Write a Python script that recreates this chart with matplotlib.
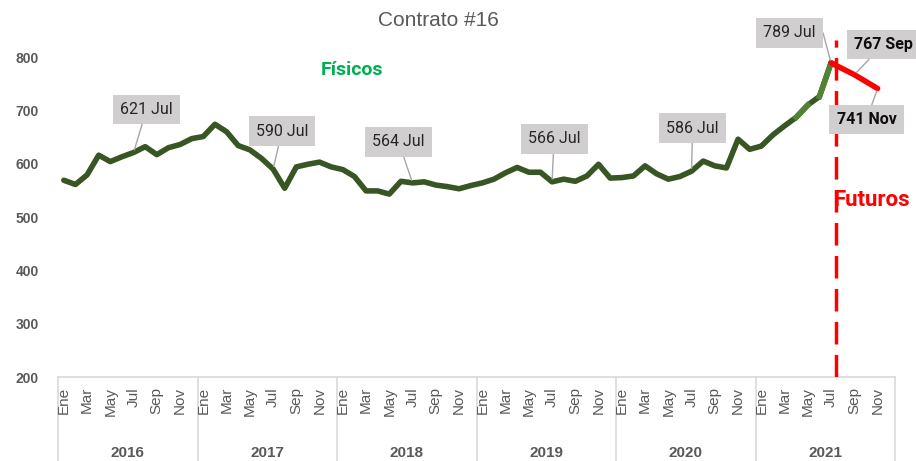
import matplotlib
matplotlib.use('Agg')
import matplotlib.pyplot as plt
import matplotlib.transforms as mtransforms

plt.rcParams['font.family'] = ['Liberation Sans', 'DejaVu Sans']

# datos
years = ['2016', '2017', '2018', '2019', '2020', '2021']
months = ['Ene', 'Feb', 'Mar', 'Abr', 'May', 'Jun', 'Jul', 'Ago', 'Sep', 'Oct', 'Nov', 'Dic']
fisicos = [569, 561, 579, 616, 604, 613, 621, 632, 617, 630, 636, 647,
           651, 674, 660, 634, 626, 610, 590, 554, 594, 599, 603, 594,
           589, 576, 549, 549, 543, 567, 564, 566, 560, 557, 553, 559,
           564, 571, 583, 593, 584, 584, 566, 571, 567, 577, 599, 573,
           574, 577, 596, 581, 571, 576, 586, 605, 596, 592, 646, 627,
           633, 654, 671, 687, 710, 726, 789]
futuros_idx = [66, 68, 70]
futuros = [789, 767, 741]
# meses etiquetados (indice en la serie fisica)
etiquetas_fis = [6, 18, 30, 42, 54, 66]

gray = '#595959'
narrow = ['Roboto', 'DejaVu Sans']

fig = plt.figure(figsize=(9.16, 4.61), dpi=100)
ax = fig.add_axes([58/916, 1-377/461, (895-58)/916, (377-40)/461])

x = list(range(len(fisicos)))
ax.plot(x, fisicos, color='#375623', lw=4, solid_capstyle='round', zorder=3)
# tramos mas claros al final de 2021
ax.plot(x[63:65], fisicos[63:65], color='#548235', lw=4, zorder=3)
ax.plot(x[65:67], fisicos[65:67], color='#548235', lw=4, zorder=3)
ax.plot(futuros_idx, futuros, color='#FF0000', lw=4, solid_capstyle='round', zorder=4)

ax.axvline(66.4, ymin=0, ymax=1, color='#FF0000', lw=2.5, linestyle=(0, (6.5, 3)), zorder=5)

ax.set_xlim(-0.5, len(years)*12 - 0.5)
ax.set_ylim(200, 832)
ax.set_yticks([200, 300, 400, 500, 600, 700, 800])
ax.tick_params(axis='y', length=0, labelsize=10, labelcolor=gray, pad=14)
for t in ax.get_yticklabels():
    t.set_fontweight('bold')
ax.set_xticks([])
for s in ['top', 'right', 'left']:
    ax.spines[s].set_visible(False)
ax.spines['bottom'].set_color('#D9D9D9')
ax.spines['bottom'].set_linewidth(1.2)

# eje de categorias en dos niveles
trans = mtransforms.blended_transform_factory(ax.transData, ax.transAxes)
for i in range(len(years)*12):
    if i % 2 == 0:
        ax.text(i, -0.03, months[i % 12], transform=trans, rotation=90, ha='center', va='top',
                fontsize=11, color=gray)
for k, yr in enumerate(years):
    ax.text(k*12 + 5.5, -0.225, yr, transform=trans, ha='center', va='center',
            fontsize=11, color=gray, fontweight='bold')
for k in range(len(years) + 1):
    ax.plot([k*12 - 0.5, k*12 - 0.5], [0, -0.26], transform=trans, color='#D9D9D9',
            lw=1.2, clip_on=False)

box = dict(boxstyle='square,pad=0.45', fc='#D0CECE', ec='none')

offsets = {6: (13, 43), 18: (9, 38), 30: (-14, 41), 42: (2, 43), 54: (1, 43), 66: (-42, 30)}
for i in etiquetas_fis:
    conn = 'angle,angleA=0,angleB=105,rad=0' if i == 66 else 'arc3'
    ax.annotate(f'{fisicos[i]} {months[i % 12]}', xy=(i, fisicos[i]), xytext=offsets[i],
                textcoords='offset pixels', ha='center', va='center', fontsize=11.5,
                family=narrow, color='#262626', bbox=box, zorder=6,
                arrowprops=dict(arrowstyle='-', color='#A6A6A6', lw=1, shrinkA=0, shrinkB=2,
                                connectionstyle=conn))

fut_offsets = [(29, 30), (-11, -31)]
for (i, v), off in zip(list(zip(futuros_idx, futuros))[1:], fut_offsets):
    ax.annotate(f'{v} {months[i % 12]}', xy=(i, v), xytext=off,
                textcoords='offset pixels', ha='center', va='center', fontsize=11.5,
                family=narrow, fontweight='bold', color='#0D0D0D', bbox=box,
                arrowprops=dict(arrowstyle='-', color='#A6A6A6', lw=1, shrinkA=0, shrinkB=2),
                zorder=6, annotation_clip=False)

fig.text(438/916, 1-20/461, 'Contrato #16', ha='center', va='center', fontsize=15, color=gray)
fig.text(352/916, 1-70/461, 'Físicos', ha='center', va='center', fontsize=14,
         color='#00B050', fontweight='bold', family=narrow)
fig.text(872/916, 1-200/461, 'Futuros', ha='center', va='center', fontsize=16,
         color='#FF0000', fontweight='bold', family=narrow)

fig.savefig('out.png', dpi=100)
